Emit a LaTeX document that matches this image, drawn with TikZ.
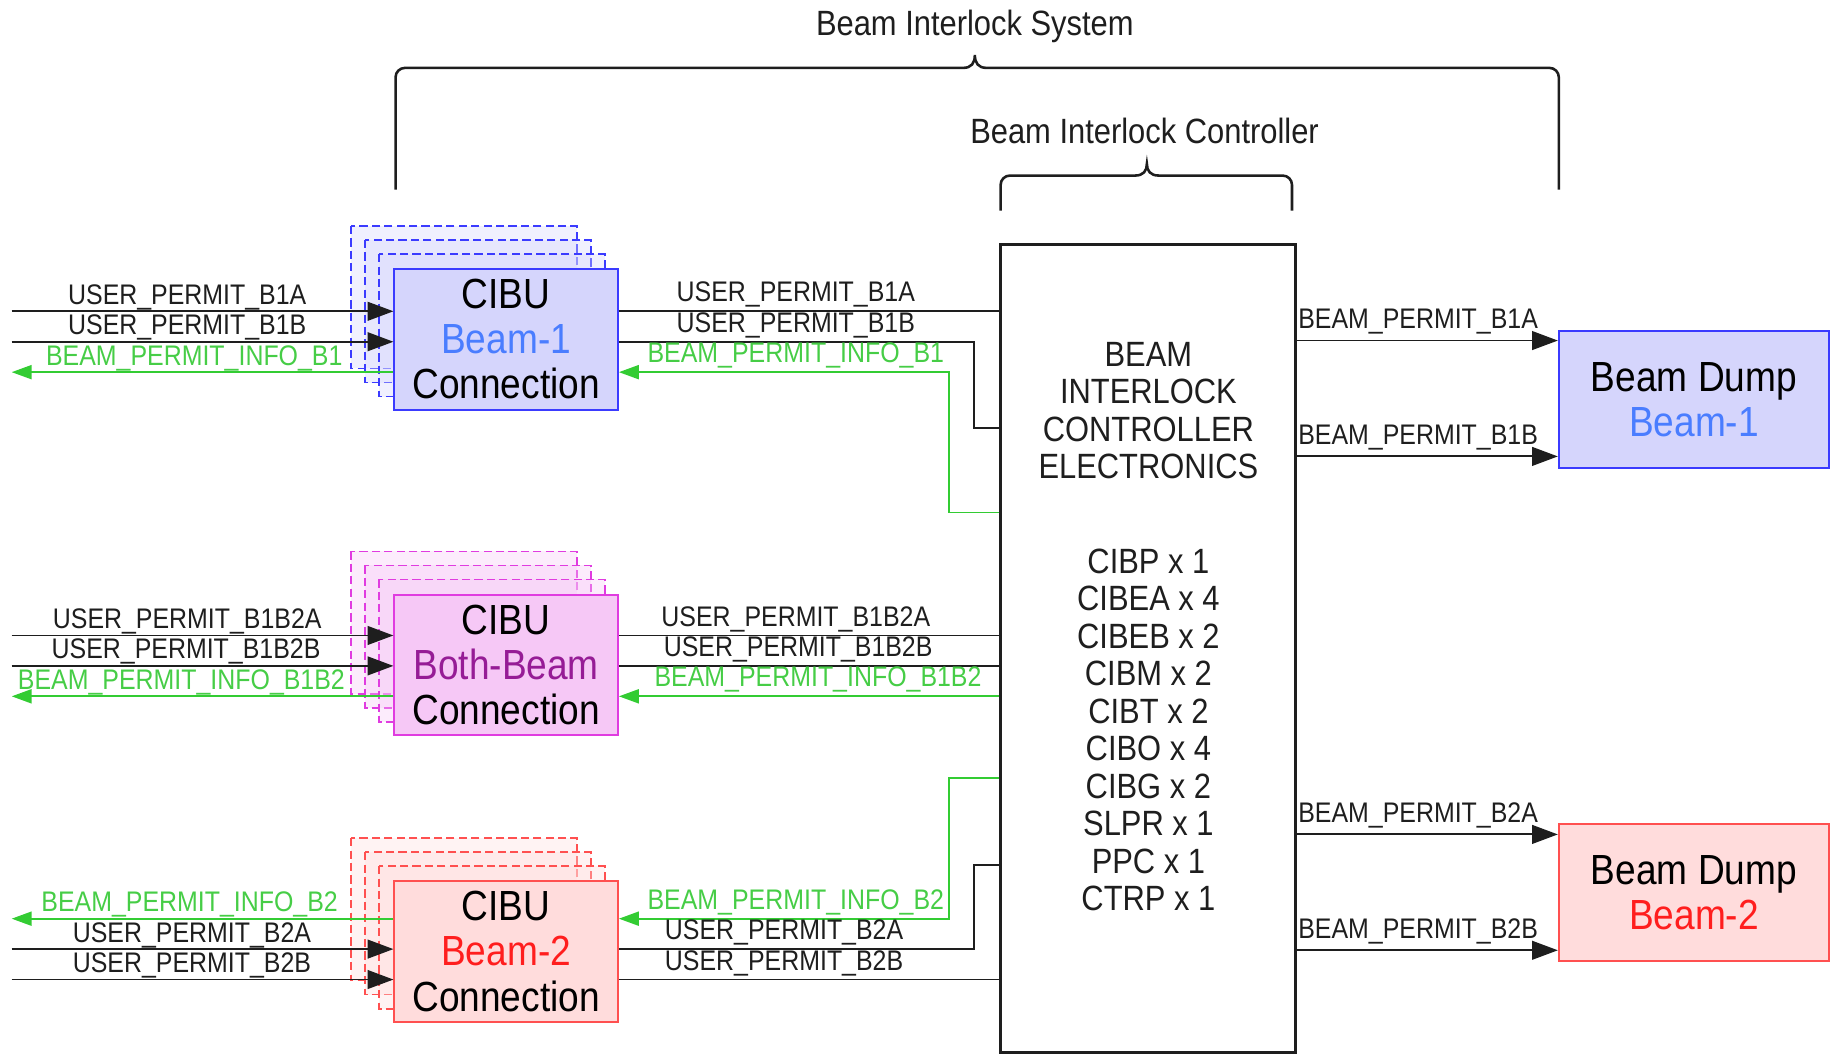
\documentclass[tikz,border=0pt]{standalone}
\usepackage{fontspec}
\setmainfont[FakeStretch=0.88]{Liberation Sans}
\usetikzlibrary{arrows.meta,backgrounds,positioning}

\definecolor{b1line}{RGB}{59,59,255}
\definecolor{b1fill}{RGB}{213,213,252}
\definecolor{b1text}{RGB}{74,125,255}
\definecolor{bbline}{RGB}{224,60,224}
\definecolor{bbfill}{RGB}{246,200,246}
\definecolor{bbtext}{RGB}{150,28,150}
\definecolor{b2line}{RGB}{255,80,80}
\definecolor{b2fill}{RGB}{255,220,220}
\definecolor{b2text}{RGB}{255,30,30}
\definecolor{infoline}{RGB}{51,204,51}
\definecolor{infotext}{RGB}{70,205,70}
\definecolor{wire}{RGB}{30,30,30}

\begin{document}
\begin{tikzpicture}[
    x=0.5pt, y=-0.5pt,
    every node/.style={inner sep=0pt},
    cibu/.style={draw=#1line, fill=#1fill, line width=0.85pt,
        minimum width=95.5pt, minimum height=60pt, align=center,
        font=\fontsize{18}{19.25}\selectfont},
    ghost/.style={draw=#1line, fill=#1fill, fill opacity=0.35,
        dash pattern=on 3.5pt off 1.8pt, line width=0.75pt},
    dump/.style={draw=#1line, fill=#1fill, line width=0.85pt,
        minimum width=115.5pt, minimum height=58.5pt, align=center,
        font=\fontsize{18}{19.25}\selectfont},
    ctrl/.style={draw=wire, line width=1.3pt, minimum width=126pt,
        minimum height=345pt, anchor=north west},
    ctrltext/.style={align=center, text=wire, font=\fontsize{15}{16}\selectfont},
    heading/.style={anchor=base, text=wire, font=\fontsize{15}{18}\selectfont},
    sig/.style={draw=wire, line width=0.8pt},
    sigin/.style={sig, -{Triangle[length=11pt,width=8pt]}},
    info/.style={draw=infoline, line width=0.75pt, -{Triangle[length=8.5pt,width=6pt]}},
    lbl/.style={anchor=base, text=wire, font=\fontsize{12.1}{14}\selectfont},
    ilbl/.style={lbl, text=infotext},
    brace/.style={draw=wire, line width=1.1pt}
]
\useasboundingbox (0,0) rectangle (1568,900);

% headings and braces
\node[heading] (bis) at (833,30.7) {Beam Interlock System};
\node[heading] (bicname) at (978,122.7) {Beam Interlock Controller};
\draw[brace] (338,162) -- (338,66) arc[start angle=180,end angle=270,radius=8]
    -- (823,58) .. controls (830,58) and (833,54) .. (833,47)
    .. controls (833,54) and (836,58) .. (843,58)
    -- (1324,58) arc[start angle=270,end angle=360,radius=8] -- (1332,162);
\draw[brace] (855,180) -- (855,158) arc[start angle=180,end angle=270,radius=8]
    -- (970,150) .. controls (977,150) and (980,146) .. (980,140)
    .. controls (980,146) and (983,150) .. (990,150)
    -- (1096,150) arc[start angle=270,end angle=360,radius=8] -- (1104,180);

% controller
\node[ctrl] (bic) at (854,208) {};
\node[ctrltext, below=42pt of bic.north] (bictitle)
    {BEAM\\INTERLOCK\\CONTROLLER\\ELECTRONICS};
\node[ctrltext, below=29.5pt of bictitle] (bicparts)
    {CIBP x 1\\CIBEA x 4\\CIBEB x 2\\CIBM x 2\\CIBT x 2\\CIBO x 4\\CIBG x 2\\SLPR x 1\\PPC x 1\\CTRP x 1};

% user interfaces
\node[cibu=b1] (cibuA) at (432.5,290) {CIBU\\\textcolor{b1text}{Beam-1}\\Connection};
\node[cibu=bb] (cibuBB) at (432.5,568) {CIBU\\\textcolor{bbtext}{Both-Beam}\\Connection};
\node[cibu=b2] (cibuB) at (432.5,813) {CIBU\\\textcolor{b2text}{Beam-2}\\Connection};

\begin{scope}[on background layer]
  \foreach \n/\c in {cibuA/b1, cibuBB/bb, cibuB/b2}
    \foreach \d in {36,24,12}
      \draw[ghost=\c] ([shift={(-\d,-\d)}]\n.north west) rectangle ([shift={(-\d,-\d)}]\n.south east);
\end{scope}

% beam dumps
\node[dump=b1] (dumpA) at (1447.5,341.5) {Beam Dump\\\textcolor{b1text}{Beam-1}};
\node[dump=b2] (dumpB) at (1447.5,763) {Beam Dump\\\textcolor{b2text}{Beam-2}};

% free ends and controller ports
\coordinate (uA1) at (10,266);
\coordinate (uA2) at (10,292);
\coordinate (uA3) at (10,318);
\coordinate (uC1) at (10,543);
\coordinate (uC2) at (10,569);
\coordinate (uC3) at (10,595);
\coordinate (uB1) at (10,785);
\coordinate (uB2) at (10,811);
\coordinate (uB3) at (10,837);
\coordinate (pA2) at (bic.west |- 0,366);
\coordinate (pA3) at (bic.west |- 0,438);
\coordinate (pB1) at (bic.west |- 0,665);
\coordinate (pB2) at (bic.west |- 0,739);

% beam 1
\draw[sigin] (uA1) -- (uA1 -| cibuA.west);
\draw[sigin] (uA2) -- (uA2 -| cibuA.west);
\draw[info] (uA3 -| cibuA.west) -- (uA3);
\draw[sig] (uA1 -| cibuA.east) -- (uA1 -| bic.west);
\draw[sig] (uA2 -| cibuA.east) -| ([xshift=-11pt]pA2) -- (pA2);
\draw[info] (pA3) -- ([xshift=-21.5pt]pA3) |- (uA3 -| cibuA.east);

% both beams
\draw[sigin] (uC1) -- (uC1 -| cibuBB.west);
\draw[sigin] (uC2) -- (uC2 -| cibuBB.west);
\draw[info] (uC3 -| cibuBB.west) -- (uC3);
\draw[sig] (uC1 -| cibuBB.east) -- (uC1 -| bic.west);
\draw[sig] (uC2 -| cibuBB.east) -- (uC2 -| bic.west);
\draw[info] (uC3 -| bic.west) -- (uC3 -| cibuBB.east);

% beam 2
\draw[info] (uB1 -| cibuB.west) -- (uB1);
\draw[sigin] (uB2) -- (uB2 -| cibuB.west);
\draw[sigin] (uB3) -- (uB3 -| cibuB.west);
\draw[info] (pB1) -- ([xshift=-21.5pt]pB1) |- (uB1 -| cibuB.east);
\draw[sig] (uB2 -| cibuB.east) -| ([xshift=-11pt]pB2) -- (pB2);
\draw[sig] (uB3 -| cibuB.east) -- (uB3 -| bic.west);

% permits to the dumps
\coordinate (oA1) at (bic.east |- 0,291);
\coordinate (oA2) at (bic.east |- 0,390);
\coordinate (oB1) at (bic.east |- 0,713);
\coordinate (oB2) at (bic.east |- 0,812);
\draw[sigin] (oA1) -- (oA1 -| dumpA.west);
\draw[sigin] (oA2) -- (oA2 -| dumpA.west);
\draw[sigin] (oB1) -- (oB1 -| dumpB.west);
\draw[sigin] (oB2) -- (oB2 -| dumpB.west);

% signal names
\foreach \x/\y/\txt [count=\i] in {
    160/266/USER\_PERMIT\_B1A, 160/292/USER\_PERMIT\_B1B,
    160/543/USER\_PERMIT\_B1B2A, 159/569/USER\_PERMIT\_B1B2B,
    164/811/USER\_PERMIT\_B2A, 164/837/USER\_PERMIT\_B2B}
  \node[lbl] (inlbl\i) at (\x,\y-6) {\txt};
\foreach \x/\y/\txt [count=\i] in {
    166/318/BEAM\_PERMIT\_INFO\_B1, 155/595/BEAM\_PERMIT\_INFO\_B1B2,
    162/785/BEAM\_PERMIT\_INFO\_B2}
  \node[ilbl] (outlbl\i) at (\x,\y-6) {\txt};
\foreach \x/\y/\txt [count=\i] in {
    680/266/USER\_PERMIT\_B1A, 680/292/USER\_PERMIT\_B1B,
    680/543/USER\_PERMIT\_B1B2A, 682/569/USER\_PERMIT\_B1B2B,
    670/811/USER\_PERMIT\_B2A, 670/837/USER\_PERMIT\_B2B}
  \node[lbl] (uplbl\i) at (\x,\y-8) {\txt};
\foreach \x/\y/\txt [count=\i] in {
    680/318/BEAM\_PERMIT\_INFO\_B1, 699/595/BEAM\_PERMIT\_INFO\_B1B2,
    680/785/BEAM\_PERMIT\_INFO\_B2}
  \node[ilbl] (infolbl\i) at (\x,\y-8) {\txt};
\foreach \y/\txt [count=\i] in {
    291/BEAM\_PERMIT\_B1A, 390/BEAM\_PERMIT\_B1B,
    713/BEAM\_PERMIT\_B2A, 812/BEAM\_PERMIT\_B2B}
  \node[lbl, anchor=base west] (bplbl\i) at (1109,\y-10) {\txt};
\end{tikzpicture}
\end{document}
